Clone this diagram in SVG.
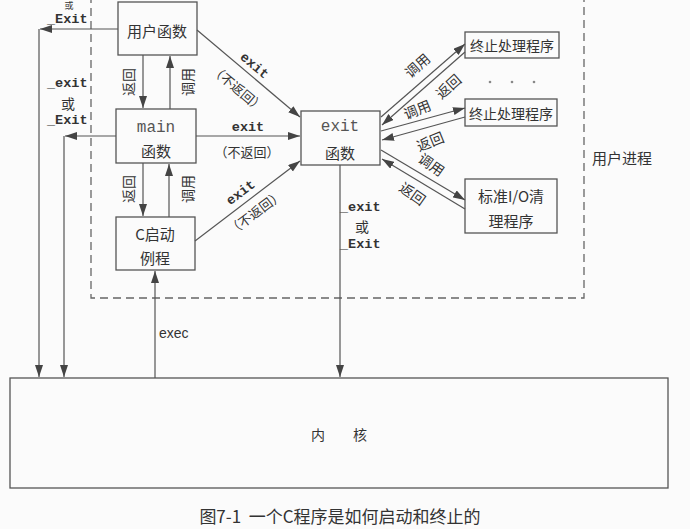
<svg xmlns="http://www.w3.org/2000/svg" width="690" height="529" viewBox="0 0 690 529">
<defs>
<marker id="ah" markerUnits="userSpaceOnUse" markerWidth="13" markerHeight="9" refX="12" refY="4" orient="auto">
<path d="M0,0 L12,4 L0,8 Z" fill="#444"/>
</marker>
<style>
.bg{fill:#fbfbfb}
.box{fill:none;stroke:#555;stroke-width:1.3}
.ln{fill:none;stroke:#555;stroke-width:1.2}
.ar{fill:none;stroke:#555;stroke-width:1.2;marker-end:url(#ah)}
.dash{fill:none;stroke:#666;stroke-width:1.3;stroke-dasharray:8 5}
.cj{font-family:"Noto Sans CJK SC","Noto Sans",sans-serif;fill:#333;text-anchor:middle;dominant-baseline:central}
.nd{font-size:15px}
.lb{font-size:14px}
.mono{font-family:"Liberation Mono","DejaVu Sans Mono",monospace;fill:#333;dominant-baseline:central}
.mb{font-size:13.5px;font-weight:bold}
.mm{font-size:16px;fill:#555}
.sans{font-family:"Liberation Sans",Arial,sans-serif;fill:#333;font-size:14px;dominant-baseline:central}
</style>
</defs>
<rect class="bg" x="0" y="0" width="690" height="529"/>

<g id="user-process">
<path class="dash" d="M91,-5 V298 H584 V-5"/>
<text class="cj nd" x="622" y="157">用户进程</text>
</g>

<g id="user-func">
<rect class="box" x="118" y="2" width="79" height="53"/>
<text class="cj nd" x="157" y="30">用户函数</text>
</g>

<g id="main">
<rect class="box" x="116" y="109" width="80" height="54"/>
<text class="mono mm" x="156" y="128" text-anchor="middle">main</text>
<text class="cj nd" x="156" y="150">函数</text>
</g>

<g id="c-start">
<rect class="box" x="116" y="217" width="79" height="53"/>
<text class="cj nd" x="155" y="233">C启动</text>
<text class="cj nd" x="155" y="257">例程</text>
</g>

<g id="exit-func">
<rect class="box" x="301" y="111" width="79" height="54"/>
<text class="mono mm" x="340" y="127" text-anchor="middle">exit</text>
<text class="cj nd" x="340" y="152">函数</text>
</g>

<g id="handler1">
<rect class="box" x="465" y="32" width="94" height="26"/>
<text class="cj lb" x="512" y="45">终止处理程序</text>
</g>

<g id="dots">
<circle cx="490" cy="82" r="1.3" fill="#888"/>
<circle cx="512" cy="82" r="1.3" fill="#888"/>
<circle cx="534" cy="82" r="1.3" fill="#888"/>
</g>

<g id="handler2">
<rect class="box" x="465" y="99" width="92" height="27"/>
<text class="cj lb" x="511" y="113">终止处理程序</text>
</g>

<g id="stdio">
<rect class="box" x="465" y="179" width="92" height="54"/>
<text class="cj nd" x="511" y="195">标准I/O清</text>
<text class="cj nd" x="511" y="220">理程序</text>
</g>

<g id="kernel">
<rect class="box" x="10" y="378" width="658" height="110"/>
<text class="cj lb" x="339" y="434">内　　核</text>
</g>

<g id="connectors">
<path class="ar" d="M118,29 H40"/>
<path class="ar" d="M39,29 V377"/>
<path class="ar" d="M116,136 H65"/>
<path class="ar" d="M64,136 V377"/>
<path class="ar" d="M143,55 V108"/>
<path class="ar" d="M170,109 V56"/>
<path class="ar" d="M143,163 V216"/>
<path class="ar" d="M169,217 V164"/>
<path class="ar" d="M155,378 V271"/>
<path class="ar" d="M197,30 L300,117"/>
<path class="ar" d="M196,136 H300"/>
<path class="ar" d="M195,241 L300,161"/>
<path class="ar" d="M340,165 V377"/>
<path class="ar" d="M381,117 L465,44"/>
<path class="ar" d="M465,52 L382,125"/>
<path class="ar" d="M381,131 L465,108"/>
<path class="ar" d="M465,117 L382,140"/>
<path class="ar" d="M381,150 L465,200"/>
<path class="ar" d="M465,209 L382,159"/>

<text class="cj" style="font-size:9px" x="69" y="5">或</text>
<text class="mono mb" x="47" y="19">_Exit</text>
<text class="mono mb" x="47" y="83">_exit</text>
<text class="cj lb" x="68" y="103">或</text>
<text class="mono mb" x="47" y="120">_Exit</text>

<text class="cj lb" transform="translate(128,82) rotate(-90)">返回</text>
<text class="cj lb" transform="translate(187,82) rotate(-90)">调用</text>
<text class="cj lb" transform="translate(128,189) rotate(-90)">返回</text>
<text class="cj lb" transform="translate(187,189) rotate(-90)">调用</text>

<text class="sans" x="159" y="333">exec</text>

<text class="mono mb" text-anchor="middle" transform="translate(254,66) rotate(40)">exit</text>
<text class="cj" style="font-size:13px" transform="translate(238,88) rotate(40)">（不返回）</text>

<text class="mono mb" text-anchor="middle" x="248" y="127">exit</text>
<text class="cj" style="font-size:13px" x="247" y="151">（不返回）</text>

<text class="mono mb" text-anchor="middle" transform="translate(241,193) rotate(-37)">exit</text>
<text class="cj" style="font-size:13px" transform="translate(255,212) rotate(-37)">（不返回）</text>

<text class="mono mb" x="340" y="207">_exit</text>
<text class="cj lb" x="362" y="226">或</text>
<text class="mono mb" x="340" y="244">_Exit</text>

<text class="cj lb" transform="translate(417,65) rotate(-42)">调用</text>
<text class="cj lb" transform="translate(448,86) rotate(-42)">返回</text>
<text class="cj lb" transform="translate(417,109) rotate(-22)">调用</text>
<text class="cj lb" transform="translate(430,141) rotate(-22)">返回</text>
<text class="cj lb" transform="translate(432,164) rotate(35)">调用</text>
<text class="cj lb" transform="translate(413,193) rotate(35)">返回</text>
</g>

<text class="cj" style="font-size:17px" x="340" y="515" xml:space="preserve">图7-1  一个C程序是如何启动和终止的</text>
</svg>
